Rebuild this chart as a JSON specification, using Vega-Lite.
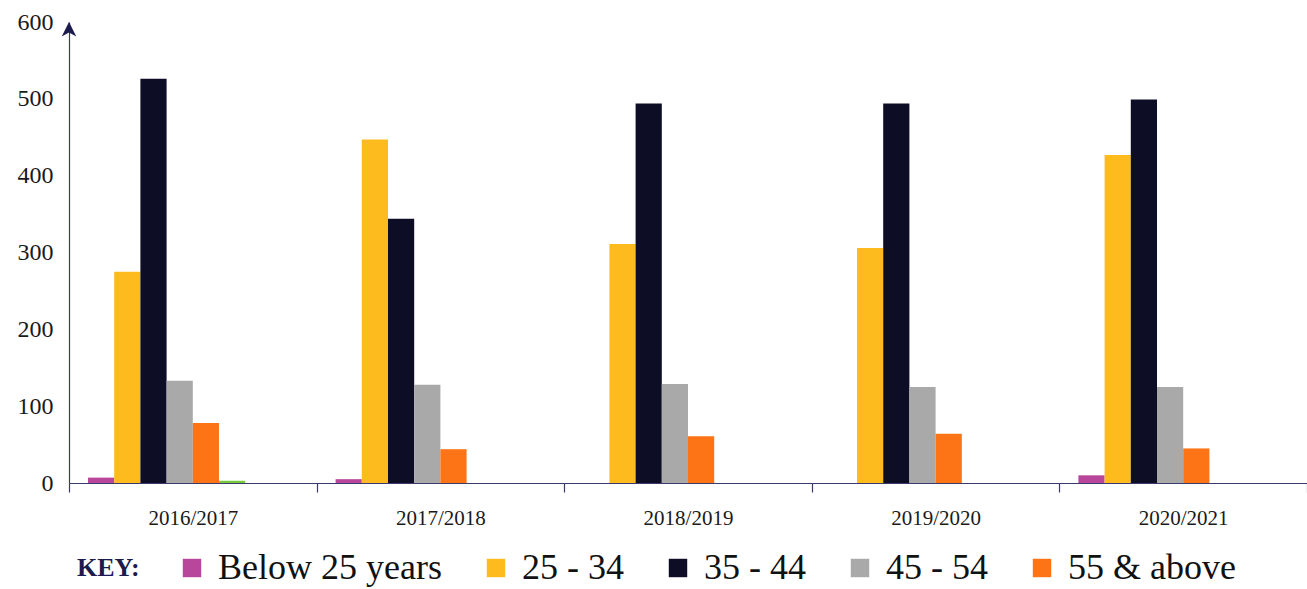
{
  "$schema": "https://vega.github.io/schema/vega-lite/v6.json",
  "autosize": {"type": "none"},
  "width": 1238,
  "height": 461,
  "padding": {"left": 69, "top": 22, "right": 0, "bottom": 106},
  "background": "white",
  "config": {
    "view": {"stroke": null},
    "font": "Liberation Serif"
  },
  "datasets": {
    "bars": [
      {"year": "2016/2017", "group": "Below 25 years", "value": 7},
      {"year": "2016/2017", "group": "25 - 34", "value": 275},
      {"year": "2016/2017", "group": "35 - 44", "value": 526},
      {"year": "2016/2017", "group": "45 - 54", "value": 133},
      {"year": "2016/2017", "group": "55 & above", "value": 78},
      {"year": "2016/2017", "group": "Other", "value": 3},
      {"year": "2017/2018", "group": "Below 25 years", "value": 5},
      {"year": "2017/2018", "group": "25 - 34", "value": 447},
      {"year": "2017/2018", "group": "35 - 44", "value": 344},
      {"year": "2017/2018", "group": "45 - 54", "value": 128},
      {"year": "2017/2018", "group": "55 & above", "value": 44},
      {"year": "2018/2019", "group": "25 - 34", "value": 311},
      {"year": "2018/2019", "group": "35 - 44", "value": 494},
      {"year": "2018/2019", "group": "45 - 54", "value": 129},
      {"year": "2018/2019", "group": "55 & above", "value": 61},
      {"year": "2019/2020", "group": "25 - 34", "value": 306},
      {"year": "2019/2020", "group": "35 - 44", "value": 494},
      {"year": "2019/2020", "group": "45 - 54", "value": 125},
      {"year": "2019/2020", "group": "55 & above", "value": 64},
      {"year": "2020/2021", "group": "Below 25 years", "value": 10},
      {"year": "2020/2021", "group": "25 - 34", "value": 427},
      {"year": "2020/2021", "group": "35 - 44", "value": 499},
      {"year": "2020/2021", "group": "45 - 54", "value": 125},
      {"year": "2020/2021", "group": "55 & above", "value": 45}
    ],
    "arrow": [{"year": "2016/2017", "value": 600}]
  },
  "layer": [
    {
      "data": {"name": "bars"},
      "mark": {"type": "bar"},
      "encoding": {
        "x": {
          "field": "year", "type": "nominal", "sort": null,
          "scale": {"paddingInner": 0, "paddingOuter": 0},
          "axis": {
            "title": null, "labelAngle": 0, "tickBand": "extent",
            "domainColor": "#3a3a6e", "domainWidth": 1.2,
            "tickColor": "#3a3a6e", "tickSize": 9, "tickWidth": 1.2,
            "labelFont": "Liberation Serif", "labelFontSize": 21,
            "labelColor": "#1a1a1a", "labelPadding": 15
          }
        },
        "xOffset": {
          "field": "group", "type": "nominal",
          "scale": {
            "domain": ["Below 25 years", "25 - 34", "35 - 44", "45 - 54", "55 & above", "Other", "Other2", "Other3"],
            "paddingInner": 0, "paddingOuter": 0.725
          }
        },
        "y": {
          "field": "value", "type": "quantitative",
          "scale": {"domain": [0, 600], "nice": false},
          "axis": {
            "title": null, "values": [0, 100, 200, 300, 400, 500, 600],
            "grid": false, "ticks": false,
            "domainColor": "#3a3a6e", "domainWidth": 1.2,
            "labelFont": "Liberation Serif", "labelFontSize": 24,
            "labelColor": "#1a1a1a", "labelPadding": 16
          }
        },
        "color": {
          "field": "group", "type": "nominal",
          "scale": {
            "domain": ["Below 25 years", "25 - 34", "35 - 44", "45 - 54", "55 & above", "Other"],
            "range": ["#b8479c", "#fdbb1e", "#0e0d26", "#a9a9a9", "#fc7416", "#78c93c"]
          },
          "legend": {
            "values": ["Below 25 years", "25 - 34", "35 - 44", "45 - 54", "55 & above"],
            "orient": "none", "legendX": 8, "legendY": 528,
            "direction": "horizontal",
            "title": "KEY:", "titleOrient": "left",
            "titleFont": "Liberation Serif", "titleFontSize": 26, "titleFontWeight": "bold",
            "titleColor": "#1b1b4d", "titlePadding": 34, "titleBaseline": "middle",
            "titleLimit": 200,
            "symbolType": "square", "symbolSize": 340, "symbolStrokeWidth": 0,
            "labelFont": "Liberation Serif", "labelFontSize": 36, "labelColor": "#111111",
            "labelLimit": 400,
            "labelOffset": 8, "columnPadding": 36, "symbolOpacity": 1
          }
        }
      }
    },
    {
      "data": {"name": "arrow"},
      "mark": {
        "type": "point", "filled": true, "color": "#1b1b4d", "opacity": 1,
        "shape": "M0,0L0.55,1.1L0,0.8L-0.55,1.1Z", "size": 700
      },
      "encoding": {
        "x": {"field": "year", "type": "nominal", "bandPosition": 0},
        "y": {"field": "value", "type": "quantitative"}
      }
    }
  ]
}
